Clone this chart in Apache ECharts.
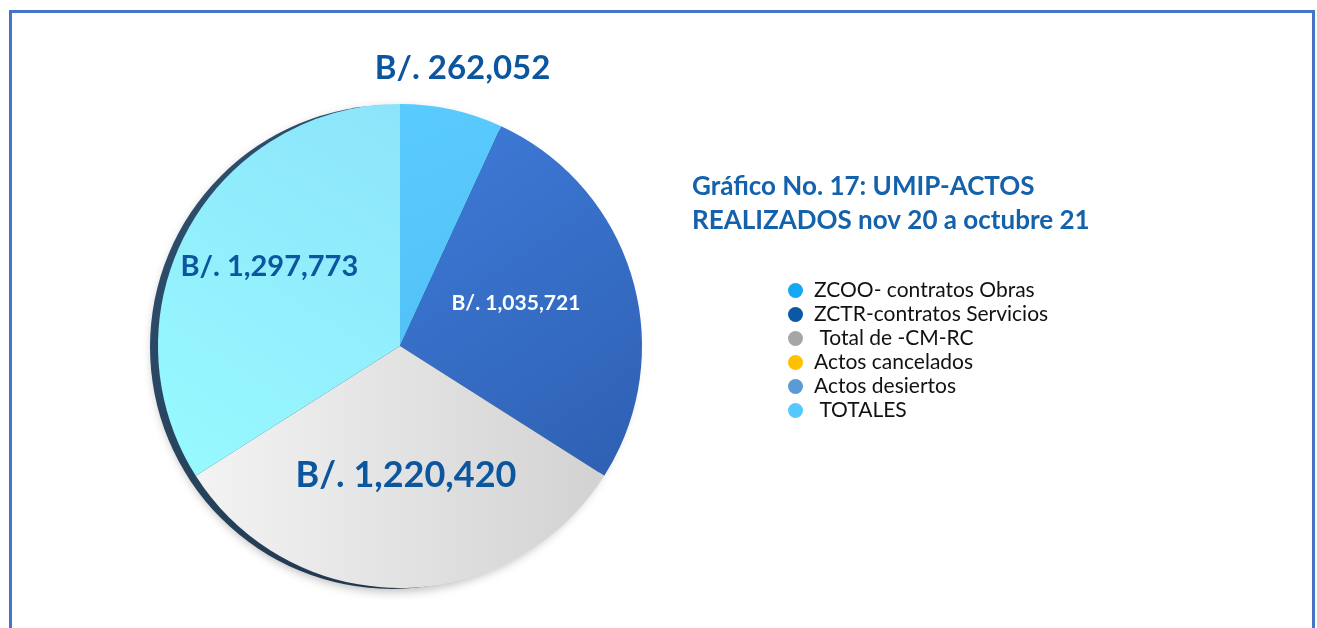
<!DOCTYPE html>
<html>
<head>
<meta charset="utf-8">
<script src="https://cdn.jsdelivr.net/npm/echarts@6/dist/echarts.min.js"></script>
<style>
  html, body { margin: 0; padding: 0; background: #ffffff; }
  #chart { width: 1317px; height: 628px; }
</style>
</head>
<body>
<div id="chart"></div>
<script>
// Categories and amounts (B/.) for the UMIP acts, Nov 2020 – Oct 2021
const categories = [
  'ZCOO- contratos Obras',
  'ZCTR-contratos Servicios',
  ' Total de -CM-RC',
  'Actos cancelados',
  'Actos desiertos',
  ' TOTALES'
];
const amounts = [262052, 1035721, 1220420, 0, 0, 1297773];
const legendColors = ['#14A8F4', '#0B59A6', '#A6A6A6', '#FFC000', '#5B9BD5', '#55C8FF'];

const titleLines = ['Gráfico No. 17: UMIP-ACTOS', 'REALIZADOS nov 20 a octubre 21'];

const FONT = 'Lato, "Open Sans", sans-serif';
const LABEL_BLUE = '#0C56A0';

function fmt(v) {
  return 'B/. ' + v.toLocaleString('en-US');
}

function lin(x1, y1, x2, y2, c1, c2) {
  return { type: 'linear', x: x1, y: y1, x2: x2, y2: y2,
    colorStops: [{ offset: 0, color: c1 }, { offset: 1, color: c2 }] };
}

// Fill and label styling per slice
const sliceFills = [
  lin(0, 0, 1, 1, '#5ACBFF', '#52C0F6'),
  lin(0, 0, 1, 1, '#3E7BD9', '#2E60B2'),
  lin(0, 0, 1, 0, '#F3F3F3', '#D2D2D2'),
  null,
  null,
  lin(1, 0, 0, 1, '#8CE4FA', '#98FAFF')
];
const labelStyles = [
  { fontSize: 33, color: LABEL_BLUE },
  { fontSize: 21, color: '#FFFFFF' },
  { fontSize: 36, color: LABEL_BLUE },
  null,
  null,
  { fontSize: 29, color: LABEL_BLUE }
];
// Nudges from the default inside label anchor
const labelShift = [
  { dx: 36, dy: -157 },
  { dx: -3, dy: -8 },
  { dx: 6, dy: 5 },
  { dx: 0, dy: 0 },
  { dx: 0, dy: 0 },
  { dx: -22, dy: -20 }
];

const pieData = categories.map((name, i) => {
  const item = { name: name, value: amounts[i] };
  if (sliceFills[i]) {
    item.itemStyle = { color: sliceFills[i] };
    item.label = Object.assign({ show: true, position: 'inside', fontWeight: 'bold', fontFamily: FONT,
      formatter: (p) => fmt(p.value) }, labelStyles[i]);
  } else {
    item.itemStyle = { color: legendColors[i] };
    item.label = { show: false };
  }
  return item;
});

const PIE_CENTER = [400, 346];
const PIE_R = 242;

const chart = echarts.init(document.getElementById('chart'), null, { renderer: 'canvas' });

chart.setOption({
  animation: false,
  backgroundColor: '#ffffff',
  graphic: [
    {
      type: 'rect', z: -10, silent: true,
      shape: { x: 10.5, y: 11.5, width: 1303, height: 640 },
      style: { fill: 'none', stroke: '#4674C6', lineWidth: 3 }
    },
    {
      type: 'text', left: 692, top: 170,
      style: {
        text: titleLines.join('\n'), fill: '#1461AC',
        font: 'bold 26px ' + FONT, lineHeight: 34
      }
    }
  ],
  legend: {
    orient: 'vertical',
    left: 783, top: 275,
    icon: 'circle',
    itemWidth: 15, itemHeight: 15,
    itemGap: 3,
    selectedMode: false,
    textStyle: { fontFamily: FONT, fontSize: 21, color: '#111111', padding: [0, 0, 0, 6] },
    data: categories.map((n, i) => ({ name: n, itemStyle: { color: legendColors[i] } }))
  },
  series: [
    {
      // depth rim behind the face
      type: 'pie', silent: true, z: 1,
      center: [PIE_CENTER[0] - 8, PIE_CENTER[1] + 1],
      radius: PIE_R,
      label: { show: false }, labelLine: { show: false },
      itemStyle: {
        color: lin(0, 0, 1, 1, '#2F5272', '#1C2E40'),
        shadowBlur: 10, shadowColor: 'rgba(0,0,0,0.25)', shadowOffsetX: 2, shadowOffsetY: 3
      },
      data: [{ name: 'rim', value: 1 }]
    },
    {
      type: 'pie', z: 2,
      center: PIE_CENTER,
      radius: PIE_R,
      startAngle: 90,
      clockwise: true,
      avoidLabelOverlap: false,
      labelLine: { show: false },
      labelLayout: (p) => labelShift[p.dataIndex],
      data: pieData
    }
  ]
});
</script>
</body>
</html>
